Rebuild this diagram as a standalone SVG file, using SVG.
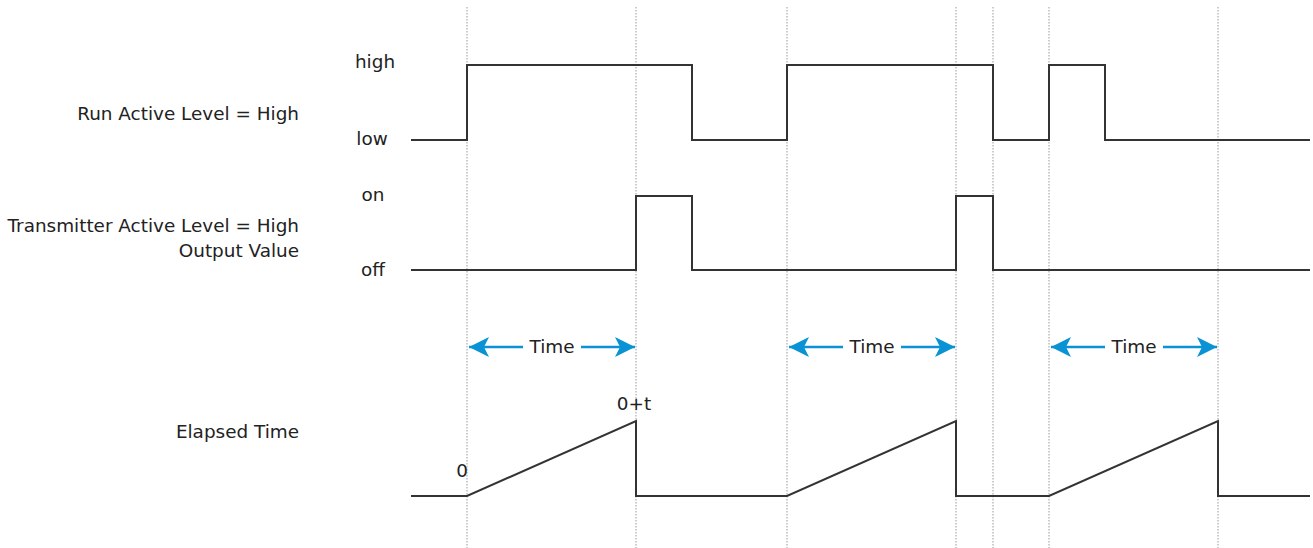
<svg xmlns="http://www.w3.org/2000/svg" width="1313" height="548" viewBox="0 0 1313 548">
<defs>
<style>
.t{font-family:"DejaVu Sans","Noto Sans",sans-serif;font-size:18.4px;fill:#222}
.r{text-anchor:end}
.m{text-anchor:middle}
.g{stroke:#999;stroke-width:1;stroke-dasharray:1.5 1.5;fill:none}
.s{stroke:#333;stroke-width:2;fill:none}
.a{stroke:#0a93d4;stroke-width:2.5;fill:none}
</style>
<marker id="ah" viewBox="0 0 10 10" refX="10" refY="5" markerWidth="8.8" markerHeight="8" orient="auto-start-reverse" markerUnits="strokeWidth">
<path d="M0,0 L10,5 L0,10 L2.5,5 z" fill="#0a93d4"/>
</marker>
</defs>
<rect width="1313" height="548" fill="#fff"/>
<g id="gridlines">
<line class="g" x1="467" y1="7" x2="467" y2="548"/>
<line class="g" x1="636" y1="7" x2="636" y2="548"/>
<line class="g" x1="787" y1="7" x2="787" y2="548"/>
<line class="g" x1="956" y1="7" x2="956" y2="548"/>
<line class="g" x1="993" y1="7" x2="993" y2="548"/>
<line class="g" x1="1049" y1="7" x2="1049" y2="548"/>
<line class="g" x1="1218" y1="7" x2="1218" y2="548"/>
</g>
<g id="labels">
<text class="t r" x="299" y="120">Run Active Level = High</text>
<text class="t r" x="299" y="232">Transmitter Active Level = High</text>
<text class="t r" x="299" y="257">Output Value</text>
<text class="t r" x="299" y="438">Elapsed Time</text>
<text class="t m" x="375" y="68">high</text>
<text class="t m" x="372" y="145">low</text>
<text class="t m" x="373" y="201">on</text>
<text class="t m" x="373" y="276">off</text>
<text class="t m" x="462" y="477">0</text>
<text class="t m" x="634" y="410">0+t</text>
</g>
<g id="run-signal">
<polyline class="s" points="411,140 467,140 467,65 692,65 692,140 787,140 787,65 993,65 993,140 1049,140 1049,65 1105,65 1105,140 1310,140"/>
</g>
<g id="transmitter-signal">
<polyline class="s" points="411,270 636,270 636,196 692,196 692,270 956,270 956,196 993,196 993,270 1310,270"/>
</g>
<g id="elapsed-signal">
<polyline class="s" points="411,496 467,496 636,421 636,496 787,496 956,421 956,496 1049,496 1218,421 1218,496 1310,496"/>
</g>
<g id="connectors">
<line class="a" x1="469" y1="347" x2="523" y2="347" marker-start="url(#ah)"/>
<line class="a" x1="581" y1="347" x2="635" y2="347" marker-end="url(#ah)"/>
<line class="a" x1="789" y1="347" x2="843" y2="347" marker-start="url(#ah)"/>
<line class="a" x1="901" y1="347" x2="955" y2="347" marker-end="url(#ah)"/>
<line class="a" x1="1051" y1="347" x2="1105" y2="347" marker-start="url(#ah)"/>
<line class="a" x1="1163" y1="347" x2="1217" y2="347" marker-end="url(#ah)"/>
</g>
<g id="time-labels">
<text class="t m" x="552" y="353">Time</text>
<text class="t m" x="872" y="353">Time</text>
<text class="t m" x="1134" y="353">Time</text>
</g>
</svg>
